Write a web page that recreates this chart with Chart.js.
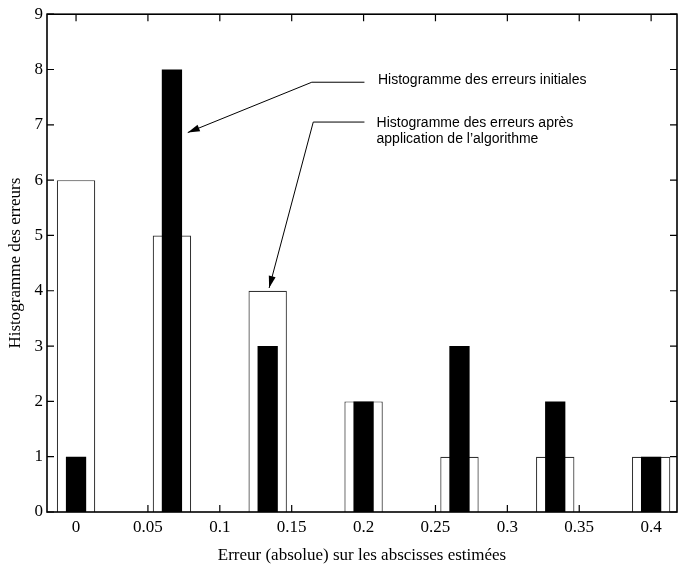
<!DOCTYPE html>
<html>
<head>
<meta charset="utf-8">
<script src="https://cdn.jsdelivr.net/npm/chart.js@4/dist/chart.umd.min.js"></script>
<style>
  body { margin: 0; background: #fff; }
  #wrap { width: 678px; height: 569px; }
</style>
</head>
<body>
<div id="wrap"><canvas id="hist" width="678" height="569"></canvas></div>
<script>
// Bin centres (absolute error) and counts
const binCenters = [0, 0.0667, 0.1333, 0.2, 0.2667, 0.3333, 0.4];
const initialCounts = [6, 5, 4, 2, 1, 1, 1];
const afterCounts = [1, 8, 3, 2, 3, 2, 1];

// Tick labels
const xTicks = [0, 0.05, 0.1, 0.15, 0.2, 0.25, 0.3, 0.35, 0.4];
const yTicks = [0, 1, 2, 3, 4, 5, 6, 7, 8, 9];

// Annotation arrows (data coords): horizontal leader then arrow to tip
const arrows = [
    { start: [0.2006, 7.77], bend: [0.164, 7.77], tip: [0.0777, 6.86] },
    { start: [0.2006, 7.05], bend: [0.165, 7.05], tip: [0.1343, 4.05] }
];
const notes = [
    { x: 0.21, y: 7.74, text: 'Histogramme des erreurs initiales' },
    { x: 0.209, y: 6.96, text: 'Histogramme des erreurs après' },
    { x: 0.209, y: 6.68, text: 'application de l\u2019algorithme' }
];

const serif = "'Liberation Serif', 'DejaVu Serif', serif";

// Box, inward ticks, arrows and notes
const decorPlugin = {
    id: 'decor',
    afterDraw(chart) {
        const ctx = chart.ctx;
        const a = chart.chartArea;
        const xs = chart.scales.x, ys = chart.scales.y;
        ctx.save();
        ctx.strokeStyle = '#000';

        // ticks
        ctx.lineWidth = 1.2;
        ctx.beginPath();
        xTicks.forEach(v => {
            const px = xs.getPixelForValue(v);
            ctx.moveTo(px, a.bottom); ctx.lineTo(px, a.bottom - 7);
            ctx.moveTo(px, a.top); ctx.lineTo(px, a.top + 7);
        });
        yTicks.forEach(v => {
            const py = ys.getPixelForValue(v);
            ctx.moveTo(a.left, py); ctx.lineTo(a.left + 7, py);
            ctx.moveTo(a.right, py); ctx.lineTo(a.right - 7, py);
        });
        ctx.stroke();

        // box
        ctx.lineWidth = 1.6;
        ctx.strokeRect(a.left, a.top, a.right - a.left, a.bottom - a.top);

        // arrows
        ctx.lineWidth = 1;
        arrows.forEach(ar => {
            const sx = xs.getPixelForValue(ar.start[0]), sy = ys.getPixelForValue(ar.start[1]);
            const bx = xs.getPixelForValue(ar.bend[0]), by = ys.getPixelForValue(ar.bend[1]);
            const tx = xs.getPixelForValue(ar.tip[0]), ty = ys.getPixelForValue(ar.tip[1]);
            ctx.beginPath();
            ctx.moveTo(sx, sy); ctx.lineTo(bx, by); ctx.lineTo(tx, ty);
            ctx.stroke();
            const ang = Math.atan2(ty - by, tx - bx);
            const len = 12, half = 3.5;
            const baseX = tx - len * Math.cos(ang), baseY = ty - len * Math.sin(ang);
            ctx.beginPath();
            ctx.moveTo(tx, ty);
            ctx.lineTo(baseX + half * Math.sin(ang), baseY - half * Math.cos(ang));
            ctx.lineTo(baseX - half * Math.sin(ang), baseY + half * Math.cos(ang));
            ctx.closePath();
            ctx.fillStyle = '#000';
            ctx.fill();
        });

        // notes
        ctx.fillStyle = '#000';
        ctx.font = "14px 'Liberation Sans', Arial, sans-serif";
        ctx.textAlign = 'left';
        ctx.textBaseline = 'alphabetic';
        notes.forEach(n => {
            ctx.fillText(n.text, xs.getPixelForValue(n.x), ys.getPixelForValue(n.y));
        });
        ctx.restore();
    }
};

// bar widths are relative to the 0.05 tick spacing (the ruler's minimum step)
new Chart(document.getElementById('hist'), {
    type: 'bar',
    data: {
        datasets: [{
            label: 'après',
            data: binCenters.map((c, i) => ({ x: c, y: afterCounts[i] })),
            backgroundColor: '#000',
            borderWidth: 0,
            barPercentage: 0.282,
            categoryPercentage: 1,
            order: 0
        }, {
            label: 'initiales',
            data: binCenters.map((c, i) => ({ x: c, y: initialCounts[i] })),
            backgroundColor: '#fff',
            borderColor: '#333',
            borderWidth: 1.2,
            barPercentage: 0.534,
            categoryPercentage: 1,
            order: 1
        }]
    },
    options: {
        responsive: false,
        animation: false,
        devicePixelRatio: 1,
        layout: { padding: { top: 13, right: 1, left: 0, bottom: 0 } },
        datasets: { bar: { grouped: false } },
        scales: {
            x: {
                type: 'linear',
                offset: false,
                min: -0.0202,
                max: 0.418,
                afterBuildTicks: s => { s.ticks = xTicks.map(v => ({ value: v })); },
                afterFit: s => { s.height = 57; },
                grid: { display: false, drawTicks: false },
                border: { display: false },
                ticks: {
                    color: '#000',
                    padding: 5,
                    maxRotation: 0,
                    autoSkip: false,
                    font: { family: serif, size: 17 },
                    callback: v => String(v)
                },
                title: {
                    display: true,
                    text: 'Erreur (absolue) sur les abscisses estimées',
                    color: '#000',
                    font: { family: serif, size: 17 },
                    padding: { top: 0, bottom: 3 }
                }
            },
            y: {
                min: 0,
                max: 9,
                afterBuildTicks: s => { s.ticks = yTicks.map(v => ({ value: v })); },
                afterFit: s => { s.width = 47; },
                grid: { display: false, drawTicks: false },
                border: { display: false },
                ticks: {
                    color: '#000',
                    padding: 4,
                    font: { family: serif, size: 17 }
                },
                title: {
                    display: true,
                    text: 'Histogramme des erreurs',
                    color: '#000',
                    font: { family: serif, size: 17 },
                    padding: { top: 5, bottom: 0 }
                }
            }
        },
        plugins: {
            legend: { display: false },
            tooltip: { enabled: false }
        }
    },
    plugins: [decorPlugin]
});
</script>
</body>
</html>
